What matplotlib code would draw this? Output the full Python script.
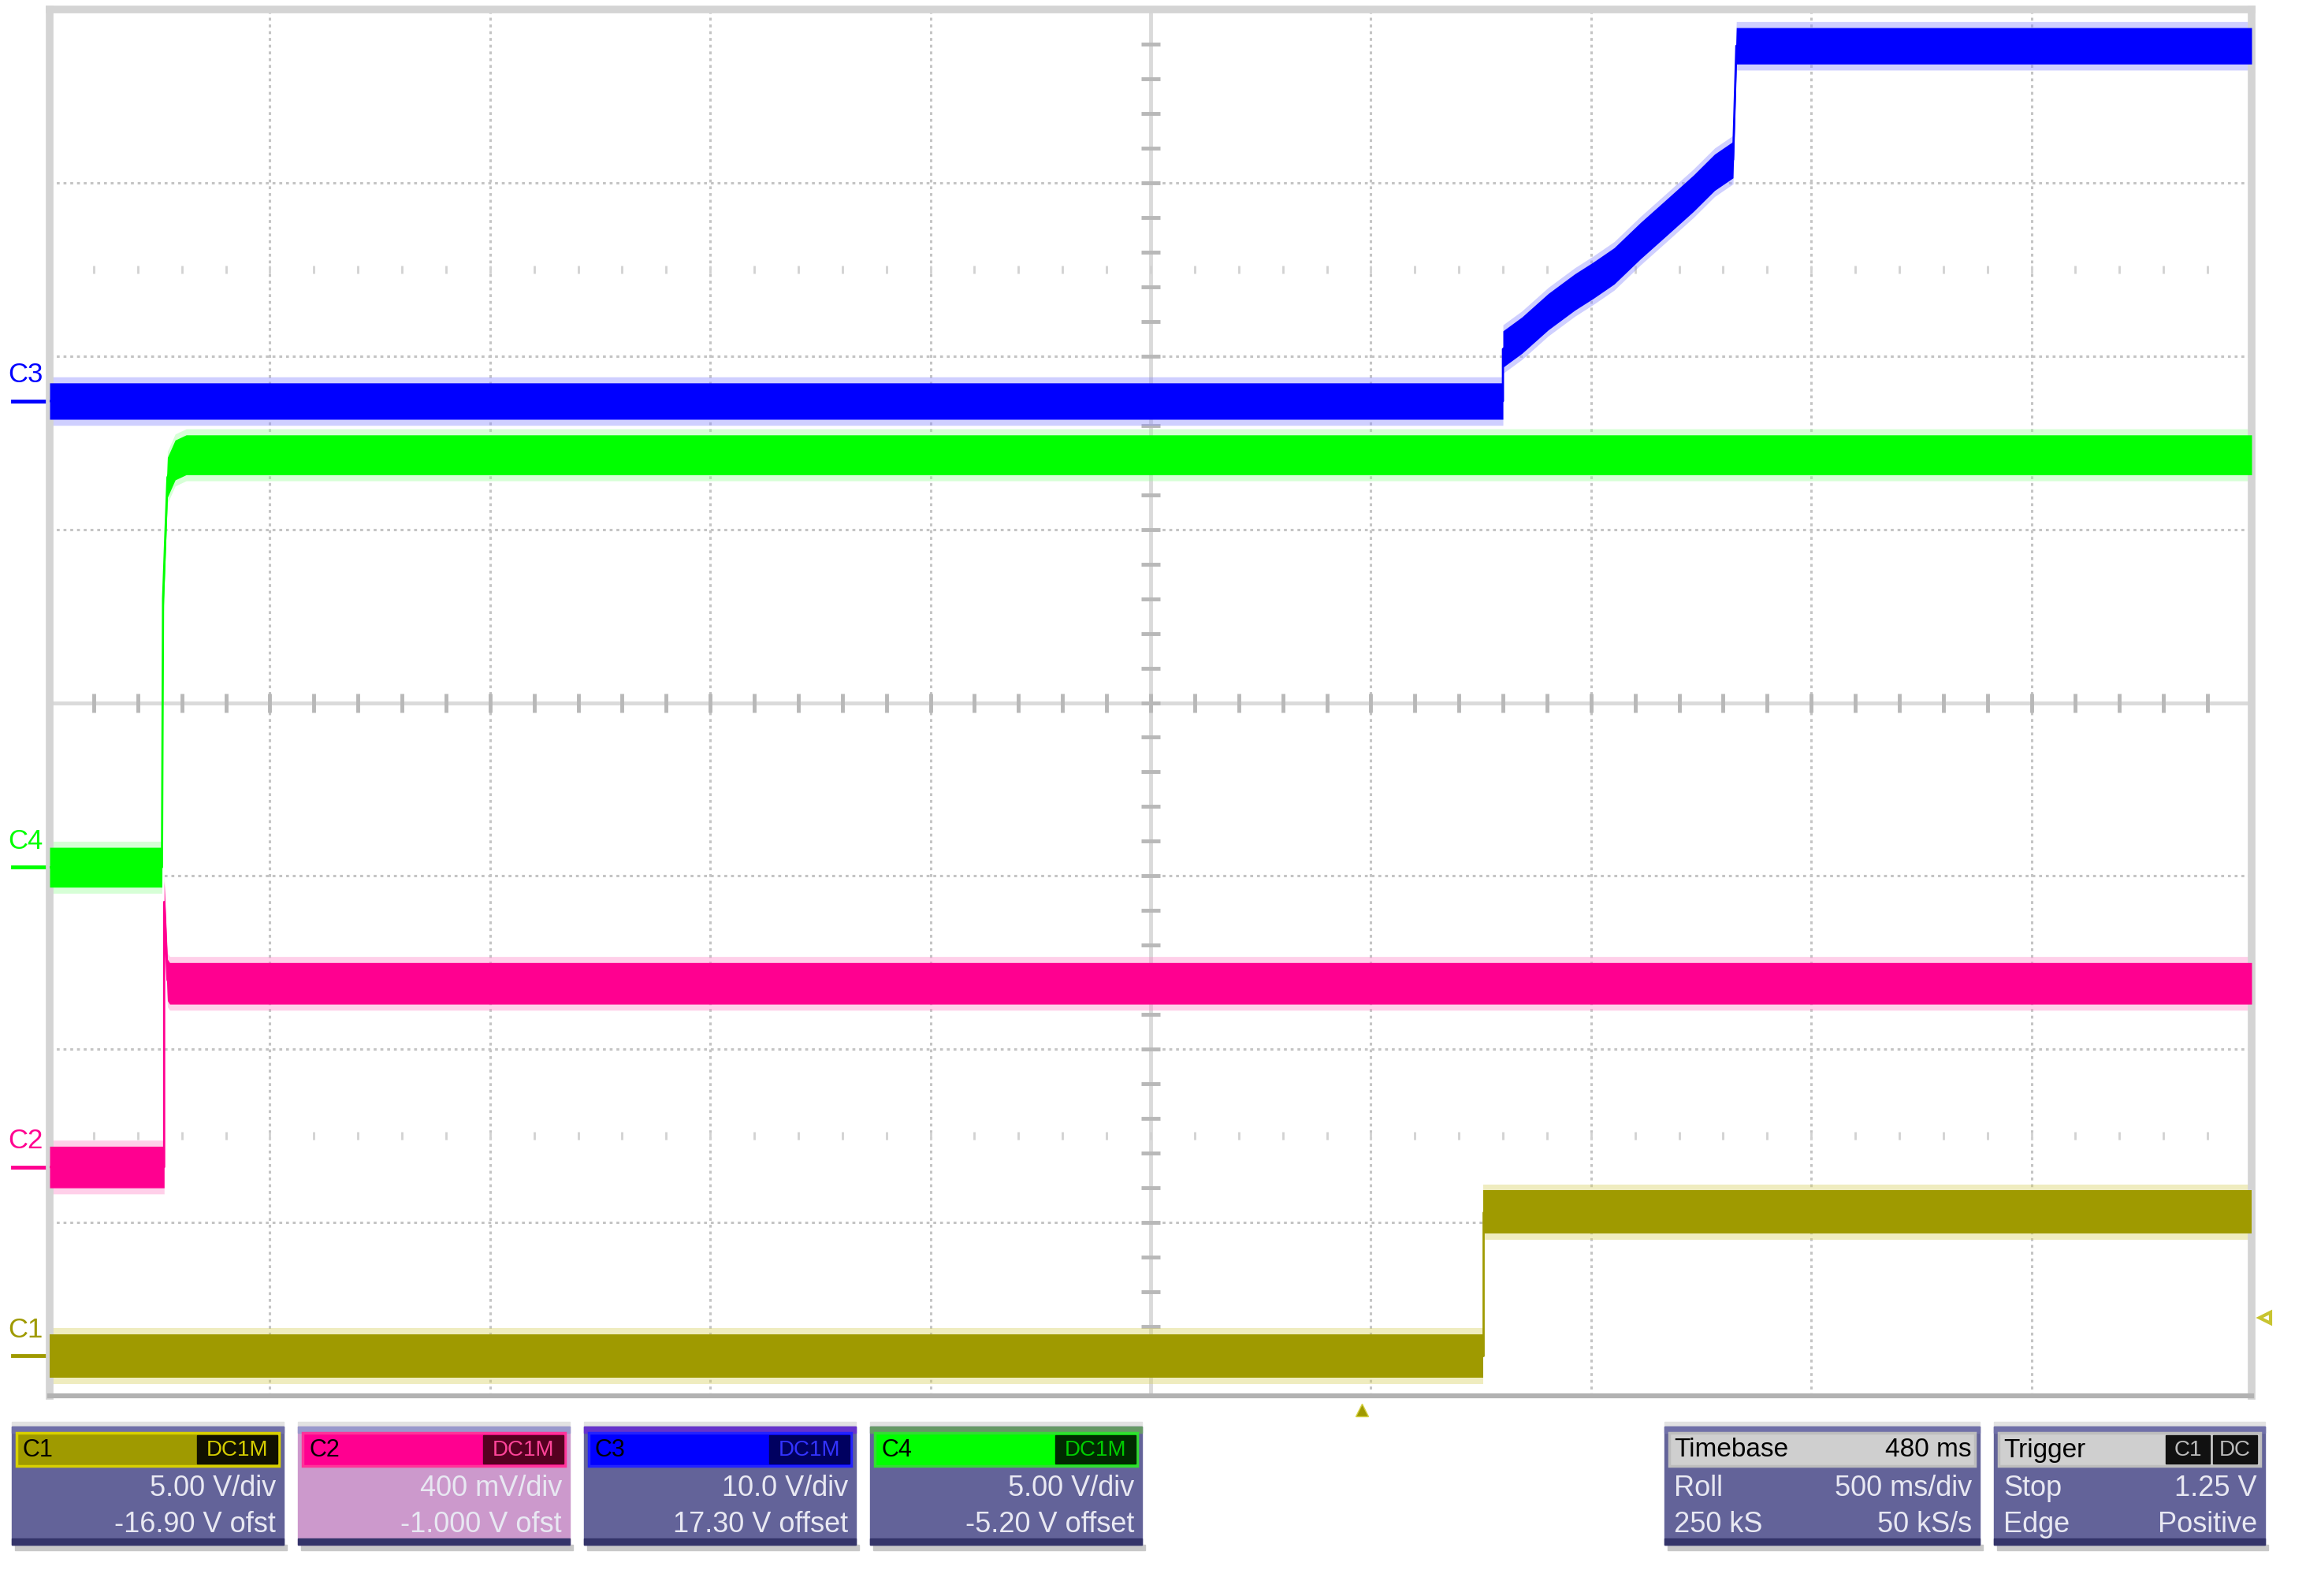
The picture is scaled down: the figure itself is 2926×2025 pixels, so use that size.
import numpy as np
import matplotlib.pyplot as plt
from matplotlib.patches import Rectangle

plt.rcParams['font.family'] = ['Liberation Sans', 'DejaVu Sans']

t_c1 = [0.0, 6.51, 6.51, 10.0]
v_c1 = [0.23, 0.23, 1.06, 1.06]

t_c2 = [0.0, 0.52, 0.52, 0.535, 0.545, 10.0]
v_c2 = [1.32, 1.32, 2.85, 2.40, 2.38, 2.38]

t_c3 = [0.0, 6.60, 6.60, 6.686, 6.806, 6.926, 7.01, 7.105, 7.225, 7.345,
        7.465, 7.561, 7.645, 7.66, 10.0]
v_c3 = [5.74, 5.74, 6.04, 6.12, 6.256, 6.369, 6.437, 6.52, 6.666, 6.802,
        6.939, 7.06, 7.133, 7.79, 7.79]

t_c4 = [0.0, 0.51, 0.515, 0.535, 0.57, 0.62, 10.0]
v_c4 = [3.05, 3.05, 4.60, 5.30, 5.40, 5.43, 5.43]

channels = ['C1', 'C2', 'C3', 'C4']
colors = ['#9f9a00', '#ff0090', '#0000ff', '#00ff00']
fringe = ['#d8d060', '#ff88c8', '#8888ff', '#99ff99']
half_w = [0.125, 0.12, 0.105, 0.115]

# channel descriptor boxes
scale_txt = ['5.00 V/div', '400 mV/div', '10.0 V/div', '5.00 V/div']
offset_txt = ['-16.90 V ofst', '-1.000 V ofst', '17.30 V offset', '-5.20 V offset']
coupling = 'DC1M'
timebase_txt = [('Timebase', '480 ms'), ('Roll', '500 ms/div'), ('250 kS', '50 kS/s')]
trigger_txt = [('Trigger', ''), ('Stop', '1.25 V'), ('Edge', 'Positive')]
trig_src = ['C1', 'DC']

trig_pos = 5.96
trig_level = 0.45

W, H = 2926, 2025
fig = plt.figure(figsize=(W / 100, H / 100), dpi=100, facecolor='white')

# pixel axes for the readout boxes under the grid
bg = fig.add_axes([0, 0, 1, 1])
bg.set_xlim(0, W)
bg.set_ylim(H, 0)
bg.axis('off')

ax = fig.add_axes([63 / W, 1 - 1771 / H, (2857 - 63) / W, (1771 - 12) / H])
ax.set_xlim(0, 10)
ax.set_ylim(0, 8)
ax.set_xticks([])
ax.set_yticks([])
for s in ['top', 'left', 'right']:
    ax.spines[s].set_color('#d4d4d4')
    ax.spines[s].set_linewidth(7)
ax.spines['bottom'].set_color('#b2b2b2')
ax.spines['bottom'].set_linewidth(4.5)

# graticule
for x in range(1, 10):
    if x != 5:
        ax.axvline(x, color='#c4c4c4', lw=2.2, ls=(0, (1.2, 1.6)), zorder=0)
for y in range(1, 8):
    if y != 4:
        ax.axhline(y, color='#c4c4c4', lw=2.2, ls=(0, (1.2, 1.6)), zorder=0)
ax.axvline(5, color='#dadada', lw=3.5, zorder=0)
ax.axhline(4, color='#dadada', lw=3.5, zorder=0)
mx = np.arange(0.2, 10, 0.2)
my = np.arange(0.2, 8, 0.2)
ax.plot(mx, np.full_like(mx, 4), ls='none', marker='|', ms=17, mew=3.5, color='#b8b8b8', zorder=0)
ax.plot(np.full_like(my, 5), my, ls='none', marker='_', ms=17, mew=3.5, color='#b8b8b8', zorder=0)
for yr in [1.5, 6.5]:
    ax.plot(mx, np.full_like(mx, yr), ls='none', marker='|', ms=7, mew=2, color='#d2d2d2', zorder=0)

# traces
traces = [(t_c1, v_c1), (t_c2, v_c2), (t_c3, v_c3), (t_c4, v_c4)]
for (t, v), c, fc, hw, name in zip(traces, colors, fringe, half_w, channels):
    t = np.array(t)
    v = np.array(v)
    ax.fill_between(t, v - hw - 0.035, v + hw + 0.035, color=fc, alpha=0.4, lw=0, zorder=2)
    ax.fill_between(t, v - hw, v + hw, color=c, lw=0, zorder=3)
    ax.plot(t, v, color=c, lw=2, zorder=3)
    # channel marker at the left edge
    ax.text(-0.11, v[0] + 0.15, name, color=c, fontsize=25, ha='center', va='center', clip_on=False)
    ax.plot([-0.17, -0.01], [v[0], v[0]], color=c, lw=3.5, clip_on=False)

# trigger position and level markers
ax.plot([trig_pos], [-0.08], marker='^', ms=12, color='#a09a00', mec='#d4d040', clip_on=False)
ax.plot([10.06], [trig_level], marker='<', ms=10, mfc='white', mec='#c8c430', mew=3, clip_on=False)


def box(x0, w, head, head_edge, body, top_strip):
    bg.add_patch(Rectangle((x0 + 4, 1960), w, 7, color='#c8c8c8'))
    bg.add_patch(Rectangle((x0, 1804), w, 7, color='#e2e2e2'))
    bg.add_patch(Rectangle((x0, 1810), w, 150, color=body))
    bg.add_patch(Rectangle((x0, 1810), w, 8, color=top_strip))
    bg.add_patch(Rectangle((x0, 1952), w, 8, color='#34346a'))
    bg.add_patch(Rectangle((x0 + 6, 1818), w - 12, 42, facecolor=head, edgecolor=head_edge, lw=2.5))


text_col = '#e8e8f2'
heads = ['#9f9a00', '#ff0090', '#0000ff', '#00ff00']
head_edges = ['#d8d000', '#ff3399', '#2222ff', '#33dd33']
bodies = ['#636399', '#cc99cc', '#636399', '#636399']
strips = ['#7070a8', '#9999cc', '#6633cc', '#669966']
tag_face = ['#111100', '#550020', '#000060', '#002a00']
tag_col = ['#d4cc00', '#ff4499', '#3333ff', '#00cc00']
box_x = [15, 378, 741, 1104]
bw = 345
for i in range(4):
    x0 = box_x[i]
    box(x0, bw, heads[i], head_edges[i], bodies[i], strips[i])
    bg.add_patch(Rectangle((x0 + bw - 110, 1821), 102, 36, color=tag_face[i]))
    bg.text(x0 + 14, 1840, channels[i], color='black', fontsize=22, va='center')
    bg.text(x0 + bw - 59, 1840, coupling, color=tag_col[i], fontsize=20, ha='center', va='center')
    bg.text(x0 + bw - 10, 1888, scale_txt[i], color=text_col, fontsize=26, ha='right', va='center')
    bg.text(x0 + bw - 10, 1934, offset_txt[i], color=text_col, fontsize=26, ha='right', va='center')

# timebase box
x0, w = 2112, 400
box(x0, w, '#cfcfcf', '#bdbdbd', '#636399', '#7070a8')
for (left, right), (yy, col) in zip(timebase_txt, [(1840, 'black'), (1888, text_col), (1934, text_col)]):
    bg.text(x0 + 12, yy, left, color=col, fontsize=24 if yy == 1840 else 26, va='center')
    bg.text(x0 + w - 10, yy, right, color=col, fontsize=24 if yy == 1840 else 26, ha='right', va='center')

# trigger box
x0, w = 2530, 344
box(x0, w, '#cfcfcf', '#bdbdbd', '#636399', '#7070a8')
for (left, right), (yy, col) in zip(trigger_txt, [(1840, 'black'), (1888, text_col), (1934, text_col)]):
    bg.text(x0 + 12, yy, left, color=col, fontsize=24 if yy == 1840 else 26, va='center')
    if right:
        bg.text(x0 + w - 10, yy, right, color=col, fontsize=26, ha='right', va='center')
for j, src in enumerate(trig_src):
    bx = x0 + w - 126 + j * 60
    bg.add_patch(Rectangle((bx, 1821), 56, 36, color='#111111'))
    bg.text(bx + 28, 1840, src, color='#bbbbbb', fontsize=20, ha='center', va='center')

fig.savefig('out.png', dpi=100, facecolor='white')
plt.close()
